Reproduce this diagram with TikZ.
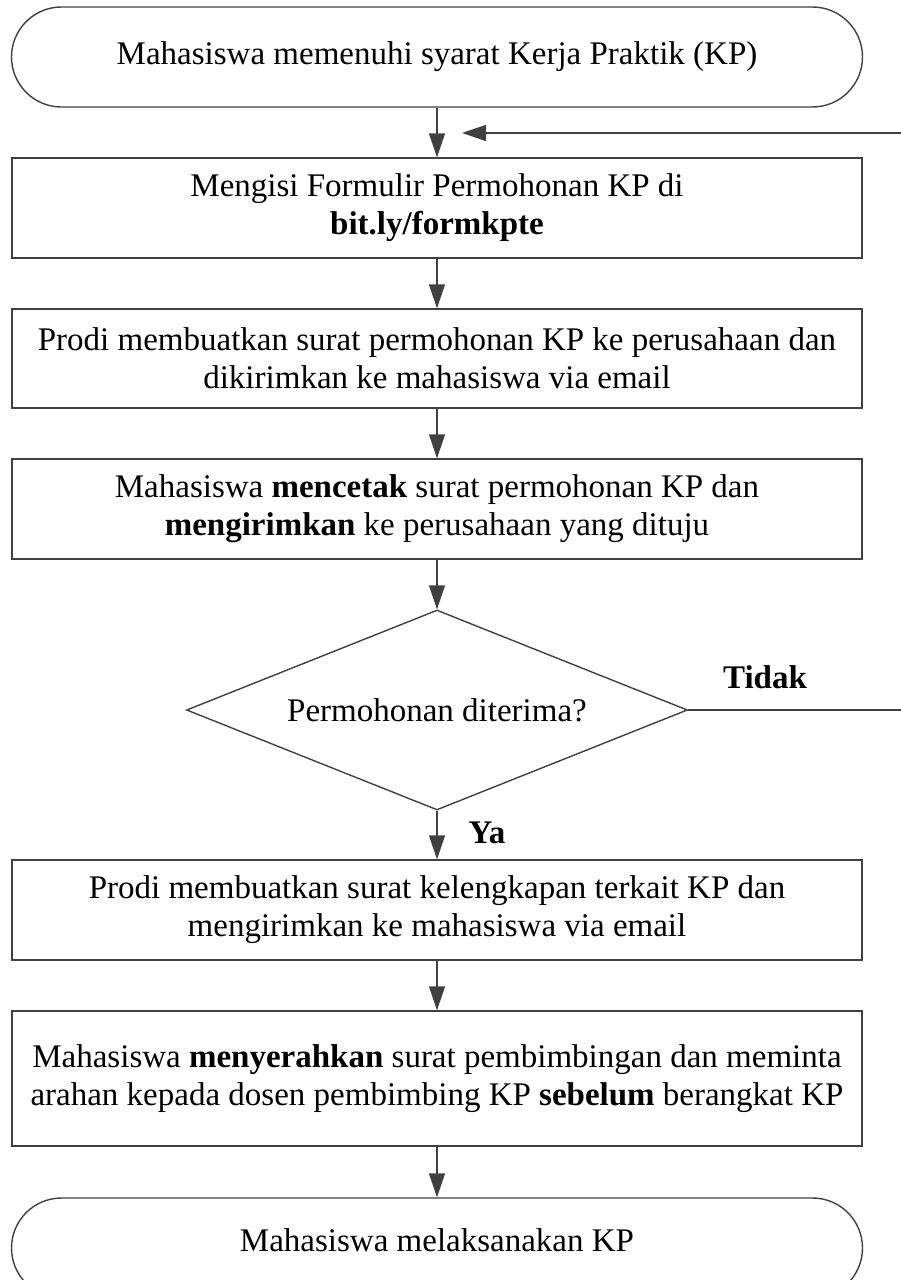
\documentclass[tikz,border=0pt]{standalone}
\usepackage{fontspec}
\setmainfont{Liberation Serif}
\usetikzlibrary{shapes.misc,shapes.geometric,arrows.meta}
\definecolor{ln}{HTML}{404040}
\begin{document}
\begin{tikzpicture}[x=1pt,y=-1pt,
  base/.style={draw=ln, line width=1.4pt, inner sep=0pt, align=center,
    font=\fontsize{33}{38}\selectfont, text=black},
  proc/.style={base, rectangle, minimum width=850pt},
  term/.style={base, rounded rectangle, minimum width=851pt, minimum height=100pt},
  dec/.style={base, diamond, aspect=2.5, minimum width=501pt, minimum height=200pt},
  arr/.style={draw=ln, line width=1.4pt, -{Triangle[length=24pt,width=16pt]}},
  lbl/.style={font=\fontsize{33}{38}\selectfont\bfseries, inner sep=0pt}]
\useasboundingbox (0,0) rectangle (901,1280);
\clip (0,0) rectangle (901,1280);
\node[term] (t1) at (437,57) {Mahasiswa memenuhi syarat Kerja Praktik (KP)};
\node[proc, minimum height=100pt] (b2) at (437,208) {Mengisi Formulir Permohonan KP di\\\textbf{bit.ly/formkpte}};
\node[proc, minimum height=99pt] (b3) at (437,358.5) {Prodi membuatkan surat permohonan KP ke perusahaan dan\\dikirimkan ke mahasiswa via email};
\node[proc, minimum height=100pt] (b4) at (437,509) {Mahasiswa \textbf{mencetak} surat permohonan KP dan\\\textbf{mengirimkan} ke perusahaan yang dituju};
\node[dec] (d) at (437,710) {Permohonan diterima?};
\node[proc, minimum height=100pt] (b5) at (437,910) {Prodi membuatkan surat kelengkapan terkait KP dan\\mengirimkan ke mahasiswa via email};
\node[proc, minimum height=135pt] (b6) at (437,1078.5) {Mahasiswa \textbf{menyerahkan} surat pembimbingan dan meminta\\arahan kepada dosen pembimbing KP \textbf{sebelum} berangkat KP};
\node[term] (t2) at (437,1248) {};
\node[base, draw=none] (t2txt) at (437,1240) {Mahasiswa melaksanakan KP};
\node[lbl] (lt) at (765,677) {Tidak};
\node[lbl] (ly) at (487,833) {Ya};
\coordinate (fb) at (462,133);
\draw[arr] (t1.south) -- (b2.north);
\draw[arr] (b2.south) -- (b3.north);
\draw[arr] (b3.south) -- (b4.north);
\draw[arr] (b4.south) -- (d.north);
\draw[arr] (d.south) -- (b5.north);
\draw[arr] (b5.south) -- (b6.north);
\draw[arr] (b6.south) -- (t2.north);
\draw[arr] (d.east) -- (930,710) -- (930,133) -- (fb);
\end{tikzpicture}
\end{document}
